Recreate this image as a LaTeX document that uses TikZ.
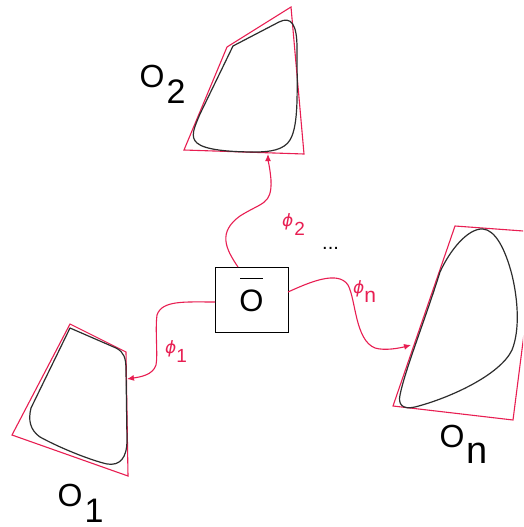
\documentclass[tikz,border=0pt]{standalone}
\usepackage{graphicx}
\usepackage{fontspec}
\setmainfont{Liberation Sans}
\newfontfamily\phifont{DejaVu Sans}
\usetikzlibrary{arrows.meta}
\definecolor{pinkred}{RGB}{232,30,82}
\definecolor{curvegray}{RGB}{45,45,45}
\newcommand{\biglab}[3]{{\fontsize{32}{32}\selectfont #1\kern#3\raisebox{-16pt}{\fontsize{34}{34}\selectfont #2}}}
\newcommand{\philab}[3]{{\color{pinkred}{\phifont\itshape\fontsize{17}{17}\selectfont ϕ}\kern#2\raisebox{-9pt}{\fontsize{19}{19}\selectfont #1}}}
\begin{document}
\begin{tikzpicture}[x=1pt,y=-1pt,
  hull/.style={draw=pinkred,line width=1.1pt,line join=miter},
  outline/.style={draw=curvegray,line width=1.2pt,line join=round},
  map/.style={draw=pinkred,line width=1.1pt,-{Latex[length=7pt,width=6pt]}},
  txt/.style={inner sep=0pt,anchor=base west}]
\useasboundingbox (0,0) rectangle (523,527);
\clip (0,0) rectangle (523,527);
\fill[white] (0,0) rectangle (523,527);

% O2
\draw[hull] (291,7) -- (227,47) -- (184,150) -- (304,154) -- cycle;
\draw[outline] (233,46) -- (279,22) .. controls (291,16) and (297,24) .. (297,48)
  .. controls (297,90) and (299,125) .. (290,140)
  .. controls (284,150) and (270,152) .. (255,152)
  .. controls (230,152) and (205,150) .. (197,143)
  .. controls (190,137) and (194,128) .. (200,114) -- cycle;

% O1
\draw[hull] (70,324) -- (126,352) -- (128,476) -- (12,435) -- cycle;
\draw[outline] (70,328) -- (116,348) .. controls (124,352) and (126,358) .. (126,370)
  -- (127,440) .. controls (127,458) and (120,466) .. (107,464)
  .. controls (90,460) and (60,448) .. (40,437)
  .. controls (30,430) and (28,420) .. (31,408) -- cycle;

% On
\draw[hull] (455,226) -- (537,232) -- (513,420) -- (393,406) -- cycle;
\draw[outline] (483,229) .. controls (495,230) and (505,248) .. (512,275)
  .. controls (518,300) and (520,330) .. (512,350)
  .. controls (500,375) and (450,398) .. (415,407)
  .. controls (402,410) and (398,404) .. (400,395)
  .. controls (405,370) and (425,320) .. (440,272)
  .. controls (450,250) and (468,228) .. (483,229) -- cycle;

% centre box
\node[draw=black,line width=0.8pt,minimum width=73pt,minimum height=65pt,inner sep=0pt] (ob) at (251.5,299.5) {};
\node[inner sep=0pt] (obt) at (251.5,295) {\setbox0\hbox{\fontsize{31}{31}\selectfont O}\vbox{\hbox to\wd0{\hss\vrule width 23pt height 1.3pt\hss}\kern10pt\box0}};

% targets
\coordinate (t2) at (268,154);
\coordinate (t1) at (127,379);
\coordinate (tn) at (411,345);
\coordinate (s2) at (238,267);
\coordinate (s1) at (215,302);
\coordinate (sn) at (288,292);

% maps
\draw[map] (s2) .. controls (225,248) and (218,232) .. (240,216)
  .. controls (262,202) and (272,205) .. (271,180)
  .. controls (270,168) and (268,160) .. (t2);
\draw[map] (s1) .. controls (185,302) and (162,300) .. (157,315)
  .. controls (155,330) and (158,355) .. (156,365)
  .. controls (153,375) and (140,377) .. (t1);
\draw[map] (sn) .. controls (310,282) and (338,270) .. (348,285)
  .. controls (356,300) and (355,340) .. (375,348)
  .. controls (385,351) and (400,348) .. (tn);

% labels
\node[txt] (l2) at (139.5,87) {\biglab{O}{2}{2pt}};
\node[txt] (l1) at (57.5,506) {\biglab{O}{1}{2pt}};
\node[txt] (ln) at (439.5,447) {\biglab{O}{\fontsize{38}{38}\selectfont n}{2pt}};
\node[txt] (p2) at (282,226) {\philab{2}{1pt}{}};
\node[txt] (p1) at (165,353) {\philab{1}{0pt}{}};
\node[txt] (pn) at (353,293) {\philab{\fontsize{21}{21}\selectfont n}{0pt}{}};
\node[txt] (dots) at (322,249) {\fontsize{20}{20}\selectfont ...};
\end{tikzpicture}
\end{document}
